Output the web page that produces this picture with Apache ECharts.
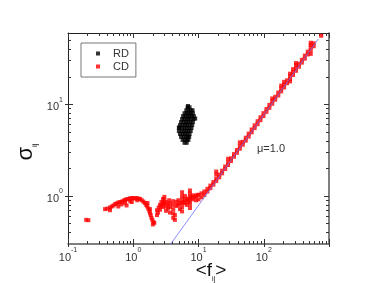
<!DOCTYPE html>
<html>
<head>
<meta charset="utf-8">
<script src="https://cdn.jsdelivr.net/npm/echarts@6/dist/echarts.min.js"></script>
<style>
  html, body { margin: 0; padding: 0; background: #fff; }
  #chart { width: 382px; height: 283px; }
</style>
</head>
<body>
<div id="chart"></div>
<script>
  // axis ranges and tick values (log axes)
  const xMin = 0.1
  const xMax = 1000
  const yMin = 0.3
  const yMax = 60
  const xMajor = [0.1, 1, 10, 100, 1000]
  const xMinor = [0.2, 0.3, 0.4, 0.5, 0.6, 0.7, 0.8, 0.9, 2, 3, 4, 5, 6, 7, 8, 9,
    20, 30, 40, 50, 60, 70, 80, 90, 200, 300, 400, 500, 600, 700, 800, 900]
  const yMajor = [1, 10]
  const yMinor = [0.4, 0.5, 0.6, 0.7, 0.8, 0.9, 2, 3, 4, 5, 6, 7, 8, 9, 20, 30, 40, 50]

  // RD: [<f_ij>, sigma_ij]
  const rdPoints = [
    [6.8, 9.28], [7.3, 9.28], [6.9, 9.6],
    [6.5, 8.62], [7.0, 8.62], [7.6, 8.62], [8.1, 8.62],
    [6.1, 8.0], [6.6, 8.0], [7.1, 8.0], [7.6, 8.0], [8.2, 8.0],
    [5.8, 7.43], [6.3, 7.43], [6.8, 7.43], [7.3, 7.43], [7.9, 7.43], [8.5, 7.43],
    [5.6, 6.9], [6.1, 6.9], [6.6, 6.9], [7.1, 6.9], [7.7, 6.9], [8.4, 6.9], [8.9, 7.0],
    [5.4, 6.4], [5.9, 6.4], [6.4, 6.4], [6.9, 6.4], [7.5, 6.4], [8.2, 6.4],
    [5.2, 5.94], [5.7, 5.94], [6.2, 5.94], [6.7, 5.94], [7.3, 5.94], [8.0, 5.94],
    [5.1, 5.52], [5.6, 5.52], [6.1, 5.52], [6.6, 5.52], [7.2, 5.52], [7.8, 5.52], [5.0, 5.6],
    [5.0, 5.12], [5.5, 5.12], [6.0, 5.12], [6.5, 5.12], [7.0, 5.12], [7.6, 5.12],
    [5.2, 4.76], [5.7, 4.76], [6.2, 4.76], [6.7, 4.76], [7.3, 4.76],
    [5.4, 4.42], [5.9, 4.42], [6.4, 4.42], [6.9, 4.42], [7.2, 4.42],
    [5.7, 4.1], [6.2, 4.1], [6.7, 4.1], [7.0, 4.1],
    [6.1, 3.81], [6.6, 3.81]
  ]

  // CD: [<f_ij>, sigma_ij]
  const cdPoints = [
    [0.19, 0.55], [0.205, 0.545],
    [0.37, 0.72], [0.40, 0.73], [0.44, 0.75], [0.44, 0.70], [0.47, 0.77], [0.5, 0.79],
    [0.53, 0.82], [0.56, 0.83], [0.59, 0.85], [0.59, 0.77], [0.63, 0.86], [0.66, 0.81],
    [0.67, 0.87], [0.71, 0.89], [0.75, 0.91], [0.75, 0.84], [0.79, 0.92], [0.79, 0.79],
    [0.84, 0.93], [0.89, 0.94], [0.9, 0.88], [0.94, 0.95], [0.95, 0.86], [1.0, 0.95],
    [1.06, 0.94], [1.12, 0.95], [1.15, 0.9], [1.2, 0.94], [1.27, 0.93], [1.35, 0.9],
    [1.43, 0.87], [1.51, 0.84], [1.58, 0.8], [1.65, 0.84], [1.64, 0.77], [1.7, 0.73],
    [1.76, 0.69], [1.8, 0.72], [1.81, 0.65], [1.85, 0.62], [1.9, 0.58], [1.96, 0.55],
    [2.03, 0.52], [2.1, 0.51], [2.0, 0.49],
    [2.31, 0.62], [2.31, 0.7], [2.4, 0.66], [2.45, 0.75], [2.57, 0.8], [2.57, 0.71],
    [2.7, 0.86], [2.7, 0.78], [2.86, 0.93], [2.86, 0.84], [2.86, 0.76], [3.0, 0.98],
    [3.0, 0.9], [3.0, 0.82], [3.18, 0.86], [3.18, 0.77], [3.18, 0.69], [3.4, 0.73],
    [3.4, 0.81], [3.55, 0.9], [3.66, 0.84], [3.66, 0.76], [3.66, 0.66],
    [4.1, 0.88], [4.1, 0.8], [4.1, 0.72], [4.1, 0.65], [4.1, 0.58], [4.35, 0.55], [4.35, 0.62],
    [4.6, 0.78], [4.6, 0.86], [4.9, 0.8], [4.9, 0.9], [5.2, 0.72], [5.2, 0.84],
    [5.6, 1.1], [5.6, 1.0], [5.6, 0.92], [5.6, 0.84], [5.6, 0.76], [5.6, 0.68],
    [5.9, 0.86], [6.2, 1.0], [6.2, 0.92], [6.2, 0.84], [6.6, 0.9], [6.6, 0.8], [7.0, 0.94], [7.0, 0.86],
    [7.4, 1.15], [7.4, 1.06], [7.4, 0.98], [7.4, 0.9], [7.4, 0.82], [7.4, 0.74],
    [7.9, 0.96], [8.2, 1.02], [8.2, 0.92], [8.7, 0.98], [9.2, 1.0], [9.2, 0.9], [9.6, 1.03],
    [10, 1.03], [10, 0.92], [11.1, 1.07], [11.1, 0.97], [12.3, 1.12], [12.3, 1.03],
    [13.7, 1.2], [13.7, 1.12], [15.2, 1.3], [15.2, 1.22], [16.9, 1.42], [16.9, 1.33],
    [18.7, 1.55], [18.7, 1.46], [18.7, 1.72], [18.7, 1.85], [20.8, 1.71], [20.8, 1.6],
    [23, 1.89], [23, 1.77], [25.6, 2.1], [25.6, 1.97], [28.4, 2.34], [28.4, 2.18], [28.4, 2.55],
    [31.5, 2.58], [31.5, 2.41], [35, 2.87], [35, 2.68], [38.8, 3.18], [38.8, 2.96],
    [43, 3.52], [43, 3.28], [43, 3.85], [47.8, 3.9], [47.8, 3.63], [53, 4.33], [53, 4.02],
    [58.8, 4.8], [58.8, 4.45], [65.3, 5.32], [65.3, 4.95], [72.5, 5.9], [72.5, 5.5],
    [80.5, 6.55], [80.5, 6.08], [89, 7.23], [89, 6.72], [99, 8.02], [99, 7.45],
    [110, 8.9], [110, 8.28], [122, 9.87], [122, 9.17], [135, 10.9], [135, 10.15], [135, 11.6],
    [150, 12.1], [150, 11.25], [167, 13.46], [167, 12.5], [185, 14.9], [185, 13.85], [185, 16.0],
    [205, 16.5], [205, 15.3], [205, 17.6], [228, 18.3], [228, 17.0],
    [253, 20.3], [253, 18.9], [253, 21.6], [253, 17.8], [281, 22.5], [281, 20.9], [281, 24.2],
    [312, 25], [312, 23.2], [312, 26.8], [312, 28.2], [346, 27.7], [346, 25.7],
    [384, 30.6], [384, 28.5], [426, 34], [426, 31.5], [473, 37.6], [473, 35],
    [525, 41.8], [525, 38.8], [525, 44.5], [525, 47], [525, 35.5], [583, 46.3], [583, 43],
    [760, 56]
  ]

  // fitted power law, mu = 1.0
  const fitF = [3.75, 686]
  const fitS = [0.3, 51.6]

  const font = 'Liberation Sans, Arial, sans-serif'
  const ink = '#333'

  function decadeLabel (v) {
    const e = Math.round(Math.log10(v))
    if (Math.abs(Math.log10(v) - e) > 1e-6 || e >= 3) return ''
    return '{b|10}{p|' + e + '}'
  }
  const labelRich = {
    b: { fontSize: 11, color: ink, fontFamily: font, lineHeight: 16, verticalAlign: 'bottom' },
    p: { fontSize: 7, color: ink, fontFamily: font, lineHeight: 9, verticalAlign: 'top' }
  }

  function axisBase (kind, extra) {
    return Object.assign({
      type: 'log',
      logBase: 10,
      min: kind === 'x' ? xMin : yMin,
      max: kind === 'x' ? xMax : yMax,
      axisLine: { show: false },
      axisTick: { show: false },
      axisLabel: { show: false },
      splitLine: { show: false },
      minorTick: { show: false },
      silent: true
    }, extra)
  }

  let chart = echarts.init(document.getElementById('chart'))
  let option = {
    animation: false,
    backgroundColor: '#fff',
    grid: { left: 68, top: 33, width: 261, height: 211 },
    legend: {
      data: ['RD', 'CD'],
      orient: 'vertical',
      left: 81,
      top: 43,
      padding: [4, 7, 4, 15],
      itemGap: 0,
      itemWidth: 4,
      itemHeight: 4,
      icon: 'rect',
      borderColor: '#777',
      borderWidth: 1,
      selectedMode: false,
      textStyle: { fontSize: 11, color: ink, fontFamily: font, lineHeight: 13, padding: [0, 0, 0, 8] }
    },
    xAxis: [
      axisBase('x', {
        position: 'bottom',
        axisLine: { show: true, lineStyle: { color: '#555', width: 1.5 } },
        axisTick: { show: true, inside: false, length: 3, customValues: xMajor, lineStyle: { color: ink } },
        axisLabel: { show: true, margin: 3, customValues: xMajor, formatter: decadeLabel, rich: labelRich }
      }),
      axisBase('x', {
        position: 'bottom',
        axisTick: { show: true, inside: true, length: 5, customValues: xMajor, lineStyle: { color: ink } }
      }),
      axisBase('x', {
        position: 'bottom',
        axisTick: { show: true, inside: true, length: 3, customValues: xMinor, lineStyle: { color: ink } }
      }),
      axisBase('x', {
        position: 'top',
        axisLine: { show: true, lineStyle: { color: '#222', width: 1 } },
        axisTick: { show: true, inside: true, length: 5, customValues: xMajor, lineStyle: { color: ink } }
      }),
      axisBase('x', {
        position: 'top',
        axisTick: { show: true, inside: true, length: 3, customValues: xMinor, lineStyle: { color: ink } }
      })
    ],
    yAxis: [
      axisBase('y', {
        position: 'left',
        axisLine: { show: true, lineStyle: { color: '#222', width: 1 } },
        axisTick: { show: true, inside: false, length: 3, customValues: yMajor, lineStyle: { color: ink } },
        axisLabel: { show: true, margin: 5, customValues: yMajor, formatter: decadeLabel, rich: labelRich }
      }),
      axisBase('y', {
        position: 'left',
        axisTick: { show: true, inside: true, length: 5, customValues: yMajor, lineStyle: { color: ink } }
      }),
      axisBase('y', {
        position: 'left',
        axisTick: { show: true, inside: true, length: 3, customValues: yMinor, lineStyle: { color: ink } }
      }),
      axisBase('y', {
        position: 'right',
        axisLine: { show: true, lineStyle: { color: '#555', width: 1.5 } },
        axisTick: { show: true, inside: true, length: 5, customValues: yMajor, lineStyle: { color: ink } }
      }),
      axisBase('y', {
        position: 'right',
        axisTick: { show: true, inside: true, length: 3, customValues: yMinor, lineStyle: { color: ink } }
      })
    ],
    graphic: [
      {
        type: 'text',
        x: 211,
        y: 272,
        silent: true,
        style: {
          text: '{a|<f}{s|ij}{a|>}',
          align: 'center',
          verticalAlign: 'middle',
          rich: {
            a: { fontSize: 19, fill: '#111', fontFamily: font, lineHeight: 22, verticalAlign: 'top' },
            s: { fontSize: 7, fill: '#111', fontFamily: font, lineHeight: 9, verticalAlign: 'bottom' }
          }
        }
      },
      {
        type: 'text',
        x: 27,
        y: 152,
        rotation: Math.PI / 2,
        silent: true,
        style: {
          text: '{a|σ}{s|ij}',
          align: 'center',
          verticalAlign: 'middle',
          rich: {
            a: { fontSize: 22, fill: '#111', fontFamily: font, lineHeight: 24, verticalAlign: 'top' },
            s: { fontSize: 8, fill: '#111', fontFamily: font, lineHeight: 10, verticalAlign: 'bottom' }
          }
        }
      },
      {
        type: 'text',
        x: 271,
        y: 149,
        silent: true,
        style: {
          text: 'μ=1.0',
          align: 'center',
          verticalAlign: 'middle',
          fontSize: 11,
          fontFamily: font,
          fill: ink
        }
      }
    ],
    series: [
      {
        name: 'RD',
        type: 'scatter',
        symbol: 'rect',
        symbolSize: 4,
        itemStyle: { color: '#000' },
        data: rdPoints
      },
      {
        name: 'CD',
        type: 'scatter',
        symbol: 'rect',
        symbolSize: 4,
        itemStyle: { color: '#ff0000' },
        data: cdPoints
      },
      {
        name: 'fit',
        type: 'line',
        symbol: 'none',
        silent: true,
        z: 3,
        lineStyle: { color: '#6d6dff', width: 0.8 },
        data: fitF.map((f, i) => [f, fitS[i]])
      }
    ]
  }
  chart.setOption(option)
</script>
</body>
</html>
